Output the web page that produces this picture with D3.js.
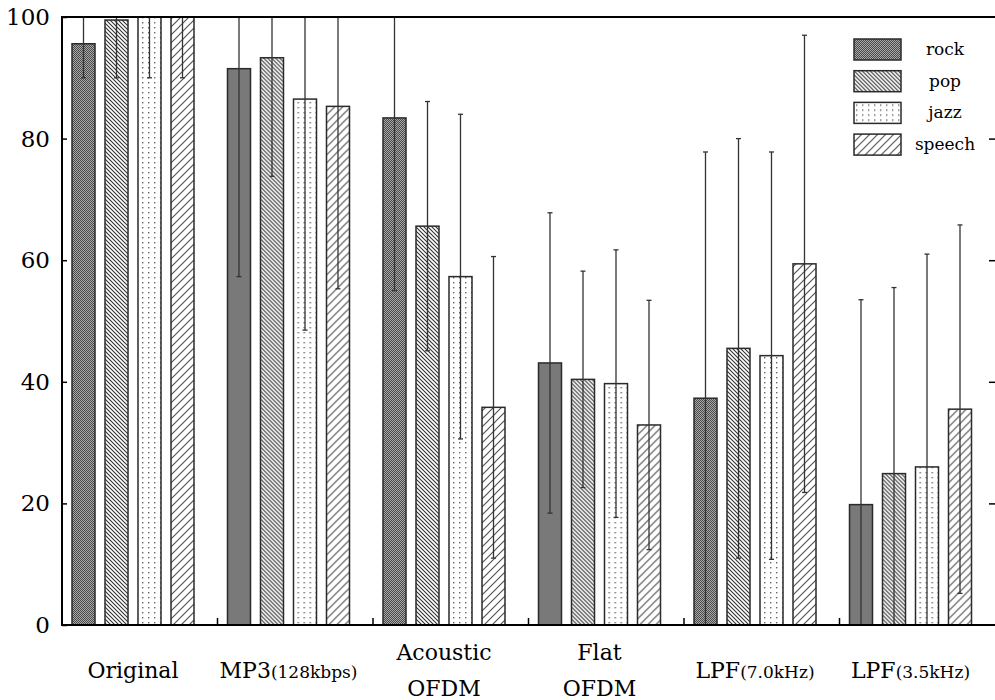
<!DOCTYPE html>
<html>
<head>
<meta charset="utf-8">
<script src="https://cdn.jsdelivr.net/npm/d3@7"></script>
<style>
  body { margin: 0; background: #fff; }
  svg { display: block; }
  text { font-family: "DejaVu Serif", serif; fill: #000; }
</style>
</head>
<body>
<svg id="chart" width="995" height="700"></svg>
<script>
// categories and series
const categories = ['Original', 'MP3(128kbps)', 'Acoustic OFDM', 'Flat OFDM', 'LPF(7.0kHz)', 'LPF(3.5kHz)'];
const series = ['rock', 'pop', 'jazz', 'speech'];
const yTicks = [0, 20, 40, 60, 80, 100];

// mean scores
const rock   = [95.6, 91.5, 83.4, 43.1, 37.3, 19.8];
const pop    = [99.5, 93.3, 65.6, 40.4, 45.5, 24.9];
const jazz   = [100, 86.5, 57.3, 39.7, 44.3, 26.0];
const speech = [100, 85.3, 35.8, 32.9, 59.4, 35.5];

// standard deviations (error bars)
const rockSd   = [5.6, 34.2, 28.4, 24.7, 40.5, 33.7];
const popSd    = [9.5, 19.5, 20.5, 17.8, 34.5, 30.6];
const jazzSd   = [10, 38.0, 26.7, 22.0, 33.5, 35.0];
const speechSd = [10, 30.0, 24.8, 20.5, 37.6, 30.3];

const means = { rock: rock, pop: pop, jazz: jazz, speech: speech };
const sds = { rock: rockSd, pop: popSd, jazz: jazzSd, speech: speechSd };

const svg = d3.select('#chart');
const mLeft = 62, mRight = 995, mTop = 17, mBottom = 625;

const x = d3.scaleBand().domain(categories).range([mLeft, mRight]);
const xb = d3.scaleBand().domain(series).range([10, 132]).paddingInner(0.303);
const y = d3.scaleLinear().domain([0, 100]).range([mBottom, mTop]);

// fill patterns
const defs = svg.append('defs');
const pRock = defs.append('pattern').attr('id', 'p-rock')
    .attr('patternUnits', 'userSpaceOnUse').attr('width', 2).attr('height', 2);
pRock.append('rect').attr('width', 2).attr('height', 2).attr('fill', '#a8a8a8');
pRock.append('rect').attr('width', 1).attr('height', 1).attr('fill', '#4a4a4a');
pRock.append('rect').attr('x', 1).attr('y', 1).attr('width', 1).attr('height', 1).attr('fill', '#4a4a4a');

const pPop = defs.append('pattern').attr('id', 'p-pop')
    .attr('patternUnits', 'userSpaceOnUse').attr('width', 4).attr('height', 4);
pPop.append('rect').attr('width', 4).attr('height', 4).attr('fill', '#fff');
pPop.append('path').attr('d', 'M0,0L4,4M-1,3L1,5M3,-1L5,1')
    .attr('stroke', '#333').attr('stroke-width', 1.1);

const pJazz = defs.append('pattern').attr('id', 'p-jazz')
    .attr('patternUnits', 'userSpaceOnUse').attr('width', 6).attr('height', 5);
pJazz.append('rect').attr('width', 6).attr('height', 5).attr('fill', '#fff');
pJazz.append('rect').attr('x', 2).attr('y', 2).attr('width', 1.4).attr('height', 1.4).attr('fill', '#666');

const pSpeech = defs.append('pattern').attr('id', 'p-speech')
    .attr('patternUnits', 'userSpaceOnUse').attr('width', 8).attr('height', 8);
pSpeech.append('rect').attr('width', 8).attr('height', 8).attr('fill', '#fff');
pSpeech.append('path').attr('d', 'M0,8L8,0M-1,1L1,-1M7,9L9,7')
    .attr('stroke', '#555').attr('stroke-width', 1.2);

defs.append('clipPath').attr('id', 'plot-clip')
    .append('rect').attr('x', mLeft).attr('y', mTop).attr('width', mRight - mLeft).attr('height', mBottom - mTop);

// bars
const groups = svg.append('g').selectAll('g').data(categories).join('g')
    .attr('transform', d => `translate(${x(d)},0)`);

series.forEach(s => {
    groups.append('rect')
        .attr('x', xb(s))
        .attr('y', (d, i) => y(means[s][i]))
        .attr('width', xb.bandwidth())
        .attr('height', (d, i) => y(0) - y(means[s][i]))
        .attr('fill', `url(#p-${s})`)
        .attr('stroke', '#2a2a2a')
        .attr('stroke-width', 1.5);
});

// error bars
const err = svg.append('g').attr('clip-path', 'url(#plot-clip)');
categories.forEach((c, i) => {
    series.forEach(s => {
        const cx = x(c) + xb(s) + xb.bandwidth() / 2;
        const lo = Math.max(0, means[s][i] - sds[s][i]);
        const hi = Math.min(100, means[s][i] + sds[s][i]);
        err.append('line').attr('x1', cx).attr('x2', cx)
            .attr('y1', y(hi)).attr('y2', y(lo))
            .attr('stroke', '#333').attr('stroke-width', 1.3);
        [lo, hi].forEach(v => {
            if (v > 0 && v < 100) {
                err.append('line').attr('x1', cx - 2.5).attr('x2', cx + 2.5)
                    .attr('y1', y(v)).attr('y2', y(v))
                    .attr('stroke', '#333').attr('stroke-width', 1.3);
            }
        });
    });
});

// axes
svg.append('g').attr('transform', `translate(${mLeft},0)`)
    .call(d3.axisRight(y).tickValues(yTicks).tickSize(5).tickFormat(''))
    .call(g => g.select('.domain').remove())
    .call(g => g.selectAll('line').attr('stroke', '#000').attr('stroke-width', 1.5));
svg.append('g').attr('transform', `translate(${mRight},0)`)
    .call(d3.axisLeft(y).tickValues(yTicks.slice(1, 5)).tickSize(6).tickFormat(''))
    .call(g => g.select('.domain').remove())
    .call(g => g.selectAll('line').attr('stroke', '#000').attr('stroke-width', 1.5));
svg.append('g')
    .selectAll('text').data(yTicks).join('text')
    .attr('x', 50).attr('y', d => y(d) + 8)
    .attr('text-anchor', 'end')
    .style('font-size', '23px')
    .text(d => d);

// bottom ticks between groups
svg.append('g').selectAll('line').data(categories.slice(1)).join('line')
    .attr('x1', d => x(d)).attr('x2', d => x(d))
    .attr('y1', mBottom).attr('y2', mBottom - 7)
    .attr('stroke', '#000').attr('stroke-width', 1.5);

svg.append('path')
    .attr('d', `M${mRight},${mTop}H${mLeft}V${mBottom}H${mRight}`)
    .attr('fill', 'none').attr('stroke', '#000').attr('stroke-width', 2);

// category labels
categories.forEach(c => {
    const cx = x(c) + 71;
    const words = c.split(' ');
    if (words.length > 1) {
        words.forEach((w, k) => {
            svg.append('text').attr('x', cx).attr('y', 660 + k * 36)
                .attr('text-anchor', 'middle').style('font-size', '22px').text(w);
        });
    } else {
        const p = c.indexOf('(');
        const t = svg.append('text').attr('x', cx).attr('y', 678).attr('text-anchor', 'middle');
        if (p < 0) {
            t.style('font-size', '22px').text(c);
        } else {
            t.append('tspan').style('font-size', '22px').text(c.slice(0, p));
            t.append('tspan').style('font-size', '17px').text(c.slice(p));
        }
    }
});

// legend
const legend = svg.append('g').selectAll('g').data(series).join('g')
    .attr('transform', (d, i) => `translate(854,${39 + i * 31.7})`);
legend.append('rect').attr('width', 47).attr('height', 21)
    .attr('fill', d => `url(#p-${d})`).attr('stroke', '#2a2a2a').attr('stroke-width', 1.5);
legend.append('text').attr('x', 91).attr('y', 16)
    .attr('text-anchor', 'middle').style('font-size', '17px').text(d => d);
</script>
</body>
</html>
